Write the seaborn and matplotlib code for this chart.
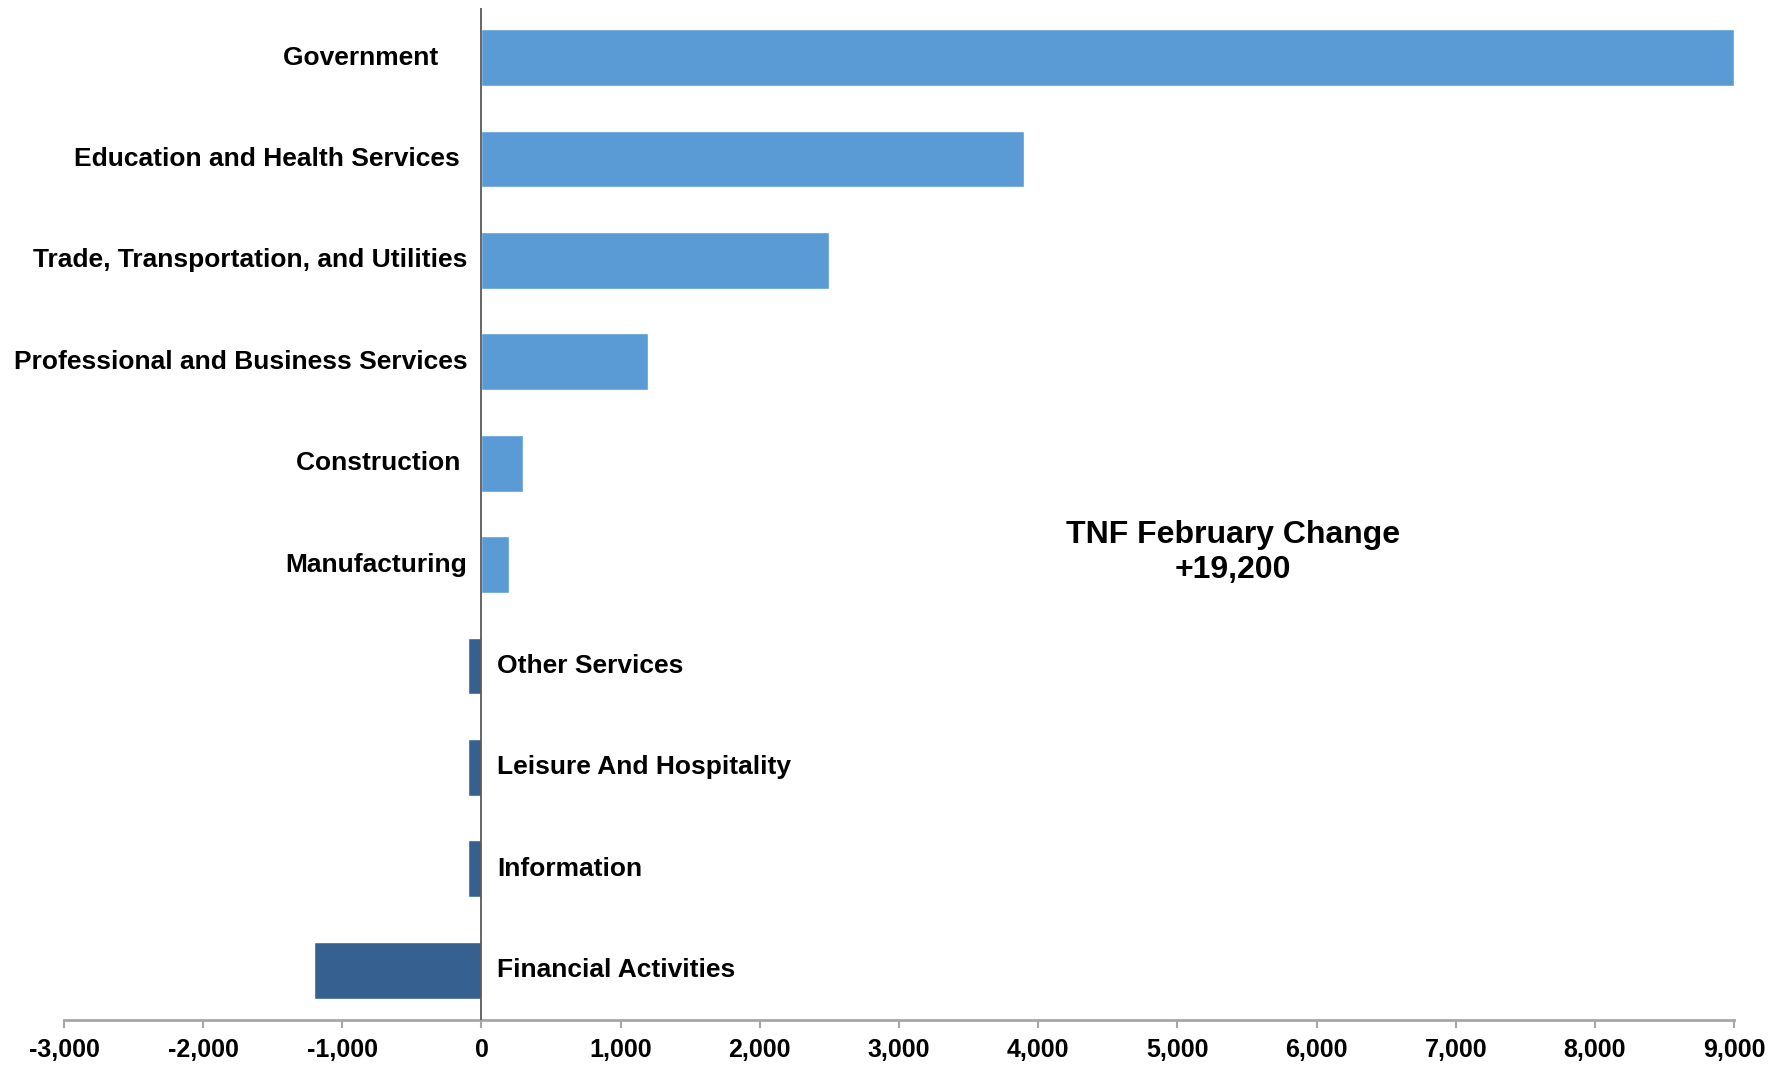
import matplotlib
matplotlib.use("Agg")
import matplotlib.pyplot as plt
import seaborn as sns
import pandas as pd

# data
industries = ["Government", "Education and Health Services",
              "Trade, Transportation, and Utilities",
              "Professional and Business Services", "Construction",
              "Manufacturing", "Other Services", "Leisure And Hospitality",
              "Information", "Financial Activities"]
label_text = ["Government    ", "Education and Health Services ",
              "Trade, Transportation, and Utilities",
              "Professional and Business Services", "Construction ",
              "Manufacturing", "Other Services", "Leisure And Hospitality",
              "Information", "Financial Activities"]
change = [9000, 3900, 2500, 1200, 300, 200, -100, -100, -100, -1200]
x_ticks = [-3000, -2000, -1000, 0, 1000, 2000, 3000, 4000, 5000, 6000, 7000, 8000, 9000]
total_note = "TNF February Change\n+19,200"

sns.set_style("white")
plt.rcParams['font.family'] = ['Liberation Sans', 'DejaVu Sans']
plt.rcParams['text.color'] = 'black'
plt.rcParams['xtick.color'] = '#a6a6a6'
plt.rcParams['xtick.labelcolor'] = 'black'

df = pd.DataFrame({"industry": industries, "change": change})
colors = {ind: ("#5B9BD5" if v >= 0 else "#36608F") for ind, v in zip(industries, change)}

fig = plt.figure(figsize=(17.91, 10.68), dpi=100)
ax = fig.add_axes([0.0357, 0.045, 0.9325, 0.9475])

sns.barplot(data=df, x="change", y="industry", hue="industry", palette=colors,
            orient="h", width=0.56, legend=False, saturation=1, ax=ax)

ax.set_xlim(-3000, 9000)
ax.set_ylim(len(industries) - 0.51, -0.49)
ax.set_xticks(x_ticks)
ax.set_xticklabels([f"{t:,}" for t in x_ticks], fontsize=18, fontweight="bold",
                   color="black")
ax.set_yticks([])
ax.set_xlabel("")
ax.set_ylabel("")

for s in ["left", "top", "right"]:
    ax.spines[s].set_visible(False)
ax.spines["bottom"].set_color("#a6a6a6")
ax.spines["bottom"].set_linewidth(2)
ax.tick_params(axis="x", bottom=True, direction="out", length=6, width=1.5,
               color="#a6a6a6", pad=7)
ax.axvline(0, color="#595959", lw=1.3, zorder=3)

# category labels next to the zero line
for i, (lab, v) in enumerate(zip(label_text, change)):
    if v >= 0:
        ax.annotate(lab, (0, i), xytext=(-14, 0), textcoords="offset pixels",
                    ha="right", va="center", fontsize=19, fontweight="bold",
                    color="black")
    else:
        ax.annotate(lab, (0, i), xytext=(16, 0), textcoords="offset pixels",
                    ha="left", va="center", fontsize=19, fontweight="bold",
                    color="black")

ax.text(5400, 4.88, total_note, ha="center", va="center", fontsize=23,
        fontweight="bold", linespacing=1.25, color="black")

fig.savefig("out.png", dpi=100)
